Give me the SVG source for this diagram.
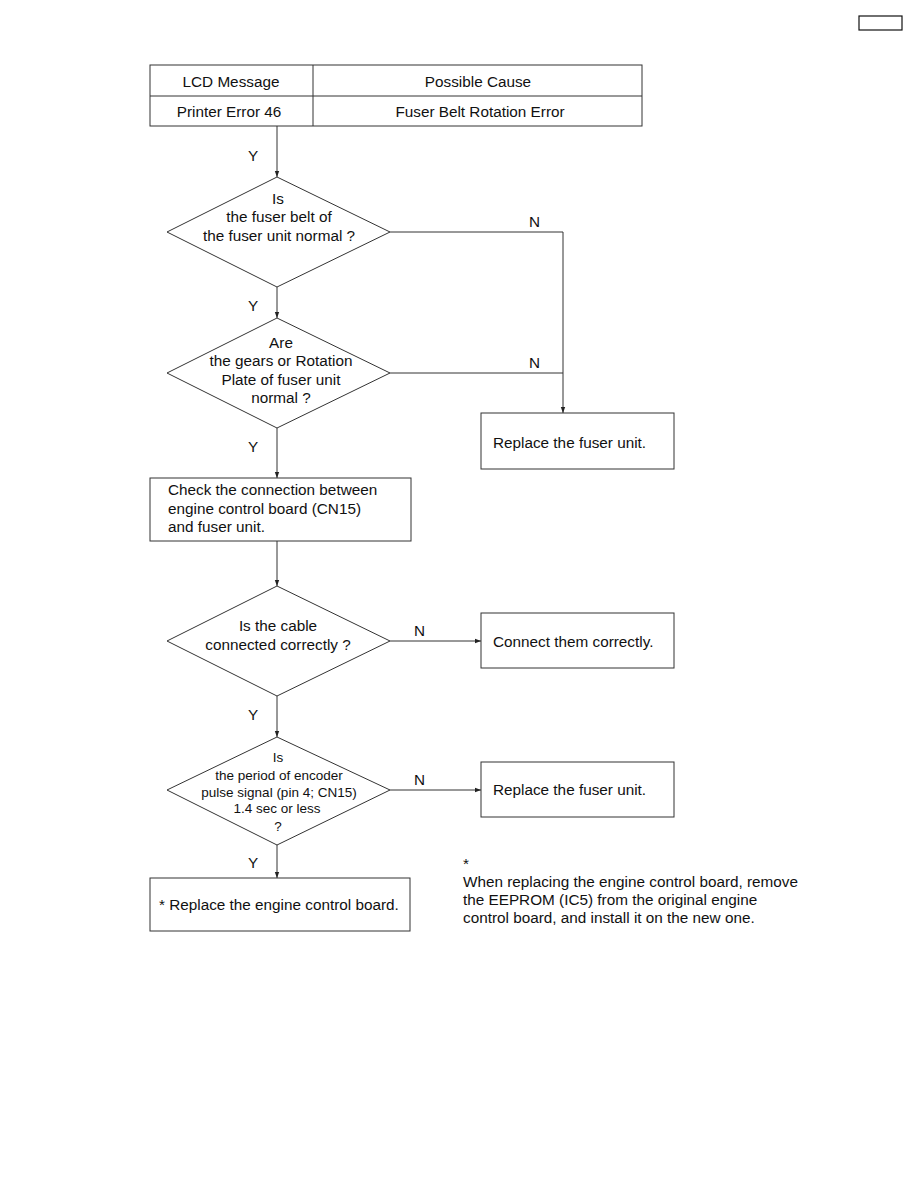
<svg xmlns="http://www.w3.org/2000/svg" width="918" height="1188" viewBox="0 0 918 1188">
<style>
.box{fill:#fff;stroke:#333;stroke-width:1}
.t{font-family:"Liberation Sans",Arial,sans-serif;font-size:15.3px;fill:#111}
.s{font-family:"Liberation Sans",Arial,sans-serif;font-size:13.5px;fill:#111}
.c{text-anchor:middle}
.ln{fill:none;stroke:#333;stroke-width:1}
</style>
<defs>
<marker id="ah" markerWidth="6" markerHeight="6" refX="6" refY="3" orient="auto" markerUnits="userSpaceOnUse">
<path d="M0,0.8 L6,3 L0,5.2 Z" fill="#222"/>
</marker>
</defs>
<rect width="918" height="1188" fill="#fff"/>
<g id="pagebox"><rect x="859" y="16" width="43" height="14" fill="none" stroke="#111" stroke-width="1.2"/></g>
<g id="table">
<rect class="box" x="150" y="65" width="492" height="61"/>
<line class="ln" x1="150" y1="96" x2="642" y2="96"/>
<line class="ln" x1="313" y1="65" x2="313" y2="126"/>
<text class="t c" x="231" y="87">LCD Message</text>
<text class="t c" x="478" y="87">Possible Cause</text>
<text class="t c" x="229" y="117">Printer Error 46</text>
<text class="t c" x="480" y="117">Fuser Belt Rotation Error</text>
</g>
<g id="connectors">
<line class="ln" x1="277" y1="126" x2="277" y2="177" marker-end="url(#ah)"/>
<line class="ln" x1="277" y1="287" x2="277" y2="318" marker-end="url(#ah)"/>
<line class="ln" x1="277" y1="428" x2="277" y2="478" marker-end="url(#ah)"/>
<line class="ln" x1="277" y1="541" x2="277" y2="586" marker-end="url(#ah)"/>
<line class="ln" x1="277" y1="696" x2="277" y2="737" marker-end="url(#ah)"/>
<line class="ln" x1="277" y1="845" x2="277" y2="878" marker-end="url(#ah)"/>
<polyline class="ln" points="390,232 563,232 563,413" marker-end="url(#ah)"/>
<line class="ln" x1="390" y1="373" x2="563" y2="373"/>
<line class="ln" x1="390" y1="641" x2="481" y2="641" marker-end="url(#ah)"/>
<line class="ln" x1="390" y1="790" x2="481" y2="790" marker-end="url(#ah)"/>
<text class="t" x="248" y="161">Y</text>
<text class="t" x="248" y="311">Y</text>
<text class="t" x="248" y="452">Y</text>
<text class="t" x="248" y="720">Y</text>
<text class="t" x="248" y="868">Y</text>
<text class="t" x="529" y="227">N</text>
<text class="t" x="529" y="368">N</text>
<text class="t" x="414" y="636">N</text>
<text class="t" x="414" y="785">N</text>
</g>
<g id="d1">
<polygon class="box" points="277,177 390,232 277,287 167,232"/>
<text class="t c" x="278" y="204">Is</text>
<text class="t c" x="279" y="222">the fuser belt of</text>
<text class="t c" x="279" y="241">the fuser unit normal ?</text>
</g>
<g id="d2">
<polygon class="box" points="277,318 390,373 277,428 167,373"/>
<text class="t c" x="281" y="348">Are</text>
<text class="t c" x="281" y="366">the gears or Rotation</text>
<text class="t c" x="281" y="385">Plate of fuser unit</text>
<text class="t c" x="281" y="403">normal ?</text>
</g>
<g id="r1">
<rect class="box" x="481" y="413" width="193" height="56"/>
<text class="t" x="493" y="448">Replace the fuser unit.</text>
</g>
<g id="check">
<rect class="box" x="150" y="478" width="261" height="63"/>
<text class="t" x="168" y="495">Check the connection between</text>
<text class="t" x="168" y="514">engine control board (CN15)</text>
<text class="t" x="168" y="532">and fuser unit.</text>
</g>
<g id="d3">
<polygon class="box" points="277,586 390,641 277,696 167,641"/>
<text class="t c" x="278" y="631">Is the cable</text>
<text class="t c" x="278" y="650">connected correctly ?</text>
</g>
<g id="connect">
<rect class="box" x="481" y="613" width="193" height="55"/>
<text class="t" x="493" y="647">Connect them correctly.</text>
</g>
<g id="d4">
<polygon class="box" points="277,737 390,790 277,845 167,790"/>
<text class="s c" x="278" y="762">Is</text>
<text class="s c" x="279" y="780">the period of encoder</text>
<text class="s c" x="279" y="797">pulse signal (pin 4; CN15)</text>
<text class="s c" x="277" y="813">1.4 sec or less</text>
<text class="s c" x="278" y="831">?</text>
</g>
<g id="r2">
<rect class="box" x="481" y="762" width="193" height="55"/>
<text class="t" x="493" y="795">Replace the fuser unit.</text>
</g>
<g id="final">
<rect class="box" x="150" y="878" width="260" height="53"/>
<text class="t" x="159" y="910">* Replace the engine control board.</text>
</g>
<g id="note">
<text class="t" x="463" y="869">*</text>
<text class="t" x="463" y="887">When replacing the engine control board, remove</text>
<text class="t" x="463" y="905">the EEPROM (IC5) from the original engine</text>
<text class="t" x="463" y="923">control board, and install it on the new one.</text>
</g>
</svg>
